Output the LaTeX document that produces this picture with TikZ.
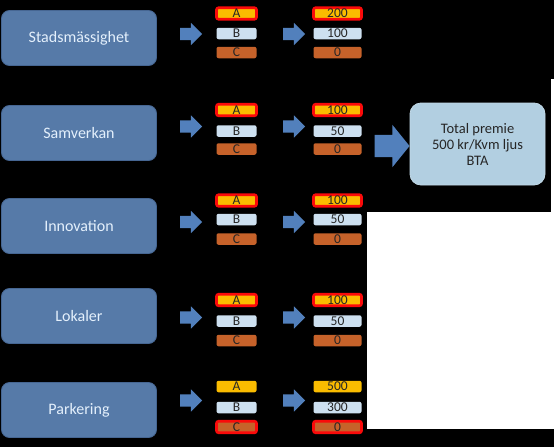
\documentclass[tikz,border=0pt]{standalone}
\usepackage{fontspec}
\setmainfont{Carlito}
\usetikzlibrary{shapes.arrows}
\definecolor{boxblue}{RGB}{86,122,168}
\definecolor{boxblueline}{RGB}{70,102,146}
\definecolor{labtext}{RGB}{228,240,252}
\definecolor{arrowblue}{RGB}{82,128,188}
\definecolor{afill}{RGB}{250,188,0}
\definecolor{bfill}{RGB}{205,224,240}
\definecolor{cfill}{RGB}{198,98,42}
\definecolor{totfill}{RGB}{178,207,225}
\definecolor{hlred}{RGB}{250,10,10}
\tikzset{
  catbox/.style={draw=boxblueline, line width=0.8pt, fill=boxblue, rounded corners=8pt,
    minimum width=155pt, minimum height=55pt, inner sep=0pt, text=labtext, font=\fontsize{16}{18}\selectfont},
  smallbox/.style={rounded corners=2pt, minimum height=11.5pt, inner sep=0pt,
    font=\fontsize{13.5}{13.5}\selectfont, text=black!85},
  letterbox/.style={smallbox, minimum width=40pt},
  valbox/.style={smallbox, minimum width=48pt},
  hl/.style={draw=hlred, line width=2.6pt},
  nohl/.style={},
  smallarrow/.style={single arrow, fill=arrowblue, draw=none, inner xsep=0pt, inner ysep=6pt,
    minimum height=22pt, single arrow head extend=5pt},
  bigarrow/.style={single arrow, fill=arrowblue, draw=none, inner xsep=0pt, inner ysep=11pt,
    minimum height=35pt, single arrow head extend=10pt, single arrow tip angle=102},
  totbox/.style={draw=totfill!80!white, line width=0.8pt, fill=totfill, rounded corners=11pt,
    minimum width=135pt, minimum height=82pt, align=center, text=black!85,
    font=\fontsize{14.5}{16}\selectfont}
}
\begin{document}
\begin{tikzpicture}[x=1pt,y=-1pt]
\fill[black] (0,0) rectangle (554,447);
\useasboundingbox (0,0) rectangle (554,447);
\fill[white] (367,212) rectangle (554,429);
\fill[white] (550.5,79) rectangle (554,212);
\foreach \i/\c/\ar/\ya/\yb/\yc/\lab/\va/\vb/\ha/\hc in {
  1/38/34/13.5/33.5/52.5/Stadsmässighet/200/100/hl/nohl,
  2/133/126.5/110/131/149/Samverkan/100/50/hl/nohl,
  3/226/222/200.5/219.5/239/Innovation/100/50/hl/nohl,
  4/316/317.5/300/321/340.5/Lokaler/100/50/hl/nohl,
  5/410/400.5/386.5/407.5/427/Parkering/500/300/nohl/hl}{
  \node[catbox] (l\i) at (79,\c) {\lab};
  \node[smallarrow] (p\i) at (188,\ar) {};
  \node[smallarrow] (q\i) at (291,\ar) {};
  \node[letterbox, fill=afill, \ha] (a\i) at (236.5,\ya) {A};
  \node[letterbox, fill=bfill] (b\i) at (236.5,\yb) {B};
  \node[letterbox, fill=cfill, \hc] (c\i) at (236.5,\yc) {C};
  \node[valbox, fill=afill, \ha] (va\i) at (337.5,\ya) {\va};
  \node[valbox, fill=bfill] (vb\i) at (337.5,\yb) {\vb};
  \node[valbox, fill=cfill, \hc] (vc\i) at (337.5,\yc) {0};
}
\node[bigarrow] (big) at (387.5,146) {};
\node[totbox] (tot) at (477.5,144) {Total premie\\500 kr/Kvm ljus\\BTA};
\end{tikzpicture}
\end{document}
